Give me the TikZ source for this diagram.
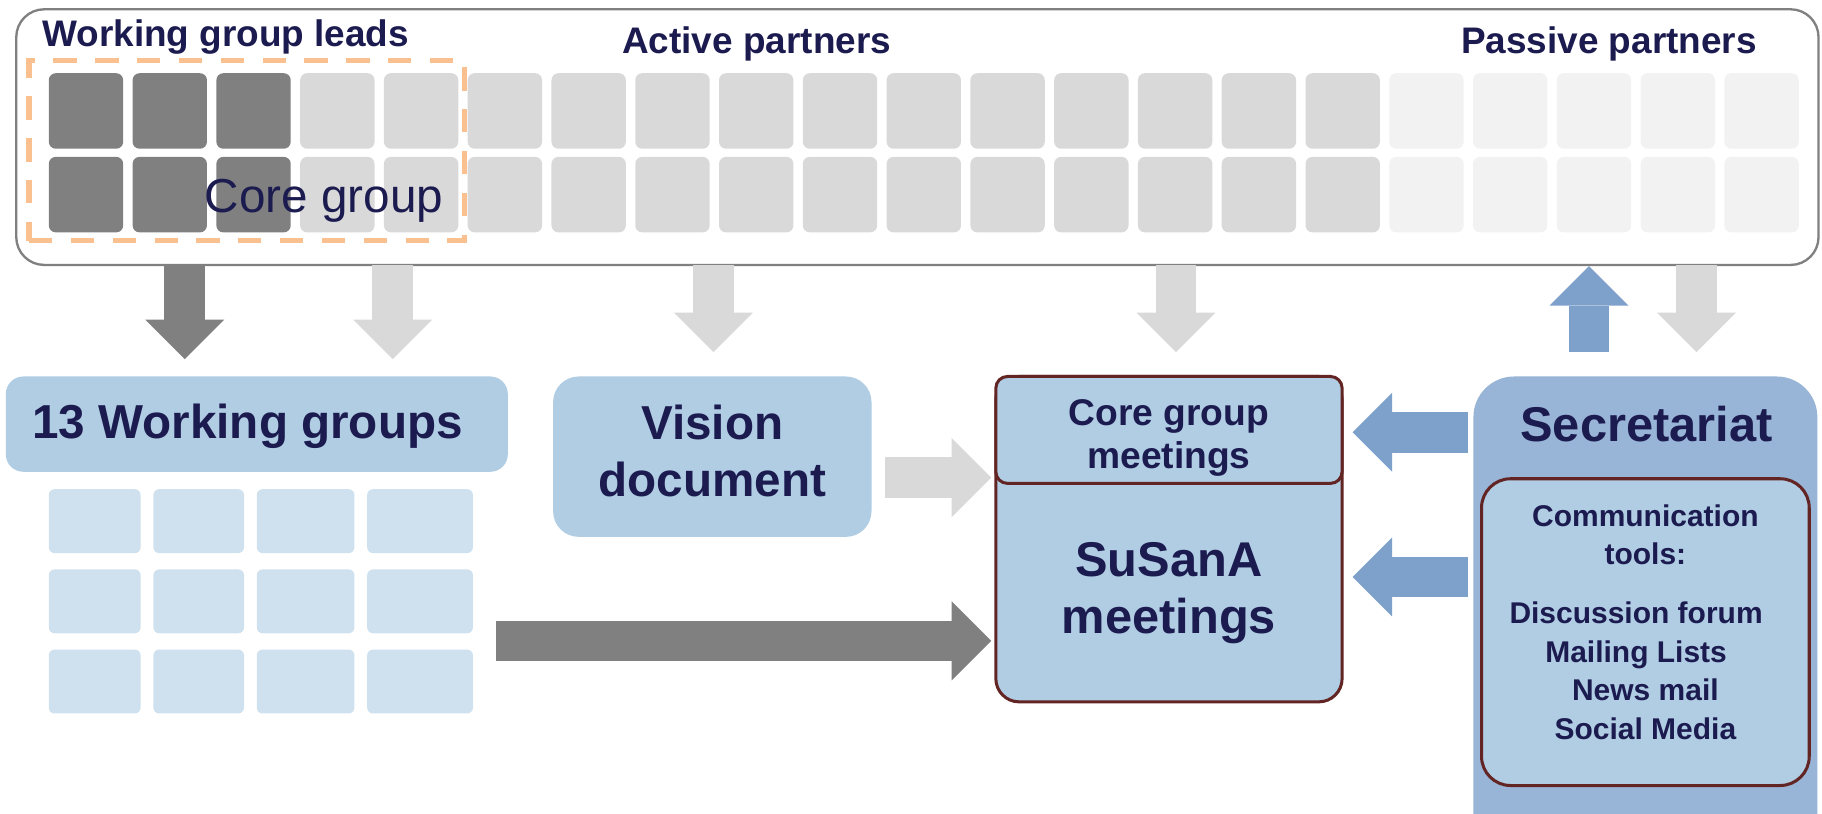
\documentclass[tikz,border=0pt]{standalone}
\usepackage{fontspec}
\setmainfont{Liberation Sans}
\usetikzlibrary{arrows.meta}
\definecolor{navy}{RGB}{28,27,80}
\definecolor{dgray}{RGB}{128,128,128}
\definecolor{lgray}{RGB}{217,217,217}
\definecolor{pgray}{RGB}{242,242,242}
\definecolor{lorange}{RGB}{250,192,144}
\definecolor{boxblue}{RGB}{176,205,228}
\definecolor{gblue}{RGB}{207,225,238}
\definecolor{secblue}{RGB}{152,180,214}
\definecolor{arrblue}{RGB}{126,161,204}
\definecolor{brd}{RGB}{99,37,35}
\newcommand\myfs[2]{\fontsize{#1}{#2}\selectfont}
\begin{document}
\begin{tikzpicture}[x=0.5pt,y=-0.5pt,
  bx/.style={anchor=north west,inner sep=0pt,outer sep=0pt},
  sq/.style={bx,rounded corners=3pt,minimum width=32pt,minimum height=32.5pt},
  lbl/.style={inner sep=0pt,text=navy,font=\bfseries},
  barr/.style={line width=17.5pt,-{Triangle[width=34pt,length=17pt,line width=0pt]}},
  redbox/.style={bx,draw=brd,line width=1.3pt,fill=boxblue}]
\useasboundingbox (0,0) rectangle (1568,700);
\clip (0,0) rectangle (1568,700);
\fill[white] (0,0) rectangle (1568,700);

% partners box
\node[bx,draw=dgray,line width=1pt,rounded corners=12pt,minimum width=775.5pt,minimum height=110pt] (partners) at (14,8) {};
\foreach \i in {0,...,20}{
  \ifnum\i<3 \def\c{dgray}\else\ifnum\i<16 \def\c{lgray}\else\def\c{pgray}\fi\fi
  \foreach \r/\y in {a/63,b/135}
    \node[sq,fill=\c] (sq\r\i) at ({42+72.1*\i},\y) {};
}
\node[bx,draw=lorange,line width=2.25pt,dash pattern=on 10pt off 8pt,minimum width=187.5pt,minimum height=77.5pt] (leads) at (25,52) {};
\node[lbl,anchor=base west,font=\bfseries\myfs{15.9}{18}] (tleads) at (36,39.6) {Working group leads};
\node[lbl,anchor=base west,font=\bfseries\myfs{15.9}{18}] (tactive) at (535,46) {Active partners};
\node[lbl,anchor=base west,font=\bfseries\myfs{15.9}{18}] (tpassive) at (1257,46) {Passive partners};
\node[lbl,anchor=base west,font=\mdseries\myfs{20.5}{24}] (tcore) at (176,183) {Core group};

% working groups
\node[bx,fill=boxblue,rounded corners=7.5pt,minimum width=216pt,minimum height=41pt] (wg) at (5,324) {};
\node[lbl,anchor=base,font=\bfseries\myfs{20.5}{24}] (twg) at (213,377) {13 Working groups};
\foreach \j/\x/\w in {1/42/79,2/132/78,3/221/84,4/316/91}
  \foreach \k/\y in {1/421,2/490,3/559}
    \node[bx,fill=gblue,rounded corners=2.5pt,minimum width={0.5pt*\w},minimum height=27.5pt] (wg\j\k) at (\x,\y) {};

% vision
\node[bx,fill=boxblue,rounded corners=11pt,minimum width=137pt,minimum height=69pt] (vision) at (476,324) {};
\node[lbl,anchor=base,font=\bfseries\myfs{20.5}{24.5}] (tvision) at (613,378) {\begin{tabular}[t]{@{}c@{}}Vision\\document\end{tabular}};

% susana
\node[redbox,rounded corners=10pt,minimum width=149pt,minimum height=140pt] (susana) at (857,324) {};
\node[redbox,rounded corners=5pt,minimum width=149pt,minimum height=46pt] (coremeet) at (857,324) {};
\node[lbl,anchor=base,font=\bfseries\myfs{16}{18.5}] (tcoremeet) at (1006,366) {\begin{tabular}[t]{@{}c@{}}Core group\\meetings\end{tabular}};
\node[lbl,anchor=base,font=\bfseries\myfs{21}{24.5}] (tsusana) at (1006,496) {\begin{tabular}[t]{@{}c@{}}SuSanA\\meetings\end{tabular}};

% secretariat
\node[bx,fill=secblue,rounded corners=17.5pt,minimum width=148pt,minimum height=228pt] (secr) at (1268,324) {};
\node[lbl,anchor=base,font=\bfseries\myfs{21}{24.5}] (tsecr) at (1417,380) {Secretariat};
\node[redbox,rounded corners=12.5pt,minimum width=141pt,minimum height=132pt] (comm) at (1275,412) {};
\node[lbl,anchor=base,font=\bfseries\myfs{12.9}{16.5}] (tcomm) at (1416,453) {\begin{tabular}[t]{@{}c@{}}Communication\\tools:\\[9pt]Discussion forum\hspace*{8pt}\\Mailing Lists\hspace*{8pt}\\News mail\\Social Media\end{tabular}};

% connector end points
\coordinate (a1s) at (159,228); \coordinate (a1e) at (159,309);
\coordinate (a2s) at (338,228); \coordinate (a2e) at (338,309);
\coordinate (a3s) at (614,228); \coordinate (a3e) at (614,303);
\coordinate (a4s) at (1012,228); \coordinate (a4e) at (1012,303);
\coordinate (a5s) at (1367.5,303); \coordinate (a5e) at (1367.5,229);
\coordinate (a6s) at (1460,228); \coordinate (a6e) at (1460,303);
\coordinate (h1s) at (762,411); \coordinate (h1e) at (853,411);
\coordinate (h2s) at (427,551.5); \coordinate (h2e) at (853,551.5);
\coordinate (h3s) at (1263,372); \coordinate (h3e) at (1164,372);
\coordinate (h4s) at (1263,496.5); \coordinate (h4e) at (1164,496.5);

\draw[barr,dgray] (a1s) -- (a1e);
\draw[barr,lgray] (a2s) -- (a2e);
\draw[barr,lgray] (a3s) -- (a3e);
\draw[barr,lgray] (a4s) -- (a4e);
\draw[barr,arrblue] (a5s) -- (a5e);
\draw[barr,lgray] (a6s) -- (a6e);
\draw[barr,lgray] (h1s) -- (h1e);
\draw[barr,dgray] (h2s) -- (h2e);
\draw[barr,arrblue] (h3s) -- (h3e);
\draw[barr,arrblue] (h4s) -- (h4e);
\end{tikzpicture}
\end{document}
